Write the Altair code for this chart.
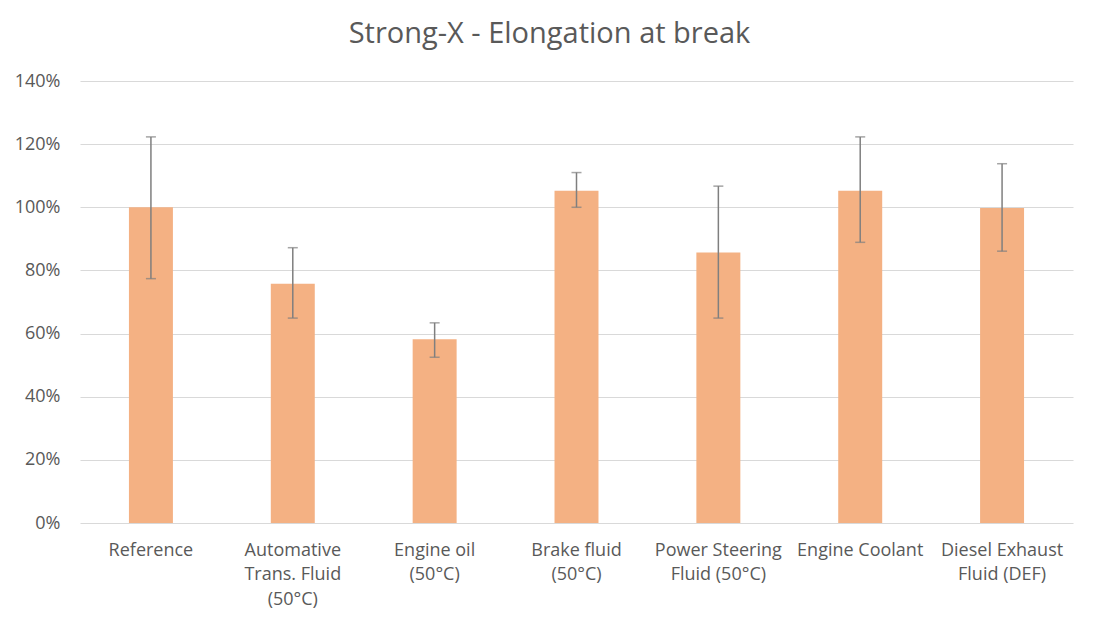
import altair as alt
import pandas as pd

categories = [
    "Reference",
    "Automative\nTrans. Fluid\n(50°C)",
    "Engine oil\n(50°C)",
    "Brake fluid\n(50°C)",
    "Power Steering\nFluid (50°C)",
    "Engine Coolant",
    "Diesel Exhaust\nFluid (DEF)",
]
values = [1.00, 0.758, 0.582, 1.052, 0.857, 1.052, 0.998]
err_low = [0.774, 0.649, 0.525, 1.000, 0.649, 0.889, 0.861]
err_high = [1.223, 0.872, 0.634, 1.110, 1.067, 1.223, 1.138]

df = pd.DataFrame({"cat": categories, "v": values, "lo": err_low, "hi": err_high})

FONT = "Open Sans"
GRAY = "#595959"

x = alt.X(
    "cat:N",
    sort=categories,
    title=None,
    scale=alt.Scale(paddingInner=0.69, paddingOuter=0.345),
    axis=alt.Axis(
        labelAngle=0,
        labelExpr="split(datum.label, '\\n')",
        labelFont=FONT,
        labelFontSize=18,
        labelColor=GRAY,
        labelLineHeight=24.5,
        labelPadding=18,
        ticks=False,
        domain=False,
        grid=False,
        labelLimit=200,
    ),
)
y_scale = alt.Scale(domain=[0, 1.4], nice=False)

base = alt.Chart(df)

bars = base.mark_bar(color="#F4B183").encode(
    x=x,
    y=alt.Y(
        "v:Q",
        scale=y_scale,
        title=None,
        axis=alt.Axis(
            format=".0%",
            values=[0, 0.2, 0.4, 0.6, 0.8, 1.0, 1.2, 1.4],
            labelFont=FONT,
            labelFontSize=18,
            labelColor=GRAY,
            labelPadding=20,
            ticks=False,
            domain=False,
            grid=True,
            gridColor="#D9D9D9",
            gridWidth=1,
        ),
    ),
)

err = base.mark_errorbar(ticks=alt.MarkConfig(size=10, color="#7F7F7F", strokeWidth=1.5), color="#7F7F7F", thickness=1.5).encode(
    x=alt.X("cat:N", sort=categories),
    y=alt.Y("lo:Q", scale=y_scale, title=None),
    y2="hi:Q",
)

chart = (
    alt.layer(bars, err)
    .properties(
        width=993,
        height=442,
        title=alt.TitleParams(
            "Strong-X - Elongation at break",
            font=FONT,
            fontSize=29,
            fontWeight="normal",
            color=GRAY,
            anchor="middle",
            offset=23,
            dx=-27,
        ),
        autosize=alt.AutoSizeParams(type="none"),
        padding={"left": 72, "top": 73, "right": 18, "bottom": 85},
        view=alt.ViewBackground(stroke="transparent", strokeWidth=0),
    )
    .configure(
        background="white",
        view=alt.ViewConfig(stroke="transparent", strokeWidth=0),
        style={"cell": {"stroke": "transparent", "strokeWidth": 0}},
        axis=alt.AxisConfig(domain=False, ticks=False),
    )
)

chart.save("out.html", embed_options={"renderer": "svg", "actions": False})
